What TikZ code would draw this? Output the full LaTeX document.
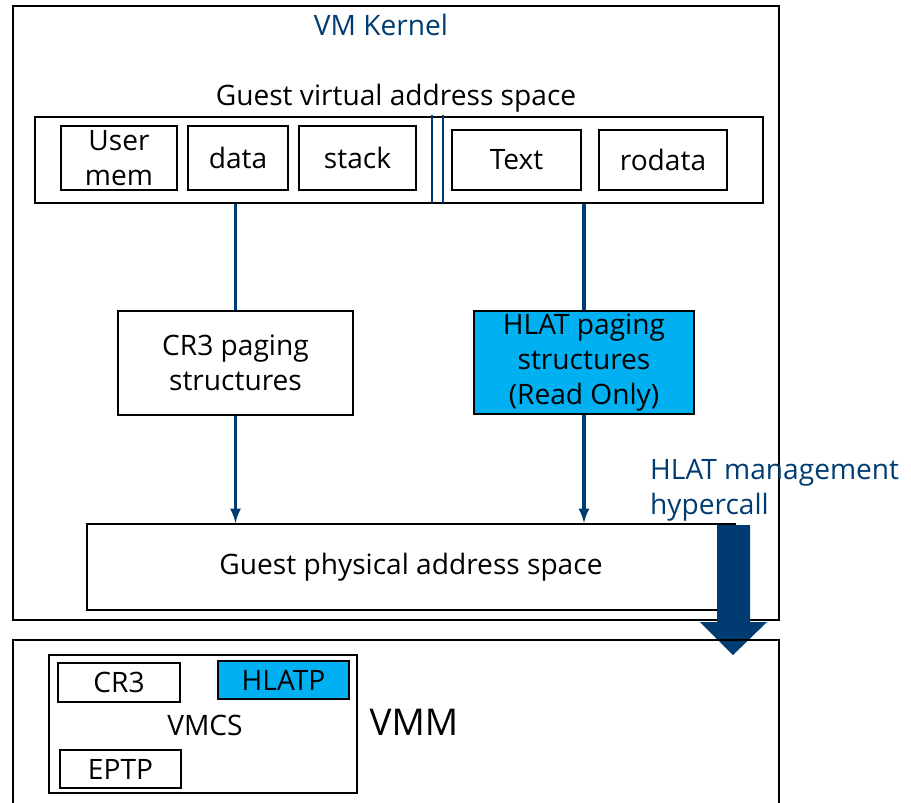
\documentclass[tikz,border=0pt]{standalone}
\usepackage{fontspec}
\setmainfont{Open Sans}
\usetikzlibrary{positioning,arrows}
\definecolor{kblue}{RGB}{0,60,113}
\definecolor{hcyan}{RGB}{0,176,240}
\tikzstyle{box}=[draw, line width=1.2pt, inner sep=0pt, align=center]
\tikzstyle{flow}=[-, kblue, line width=1.8pt]
\tikzstyle{lbl}=[font=\fontsize{16}{19.8}\selectfont]

\begin{document}
\begin{tikzpicture}[x=0.02cm, y=-0.02cm, lbl]
            \useasboundingbox (0,0) rectangle (911,802);
            \clip (0,0) rectangle (911,802);

            \node[box, minimum width=15.32cm, minimum height=12.28cm] (vmk) at (396,313) {};
            \node[kblue] (vmkt) at (381,25) {VM Kernel};

            \node[box, minimum width=14.56cm, minimum height=1.72cm] (gva) at (399,160) {};
            \node (gvat) at (396,98) {Guest virtual address space};
            \node[box, minimum width=2.32cm, minimum height=1.28cm] (user) at (119,158) {User\\mem};
            \node[box, minimum width=2.0cm, minimum height=1.28cm] (data) at (238,158) {data};
            \node[box, minimum width=2.34cm, minimum height=1.28cm] (stack) at (357.5,158) {stack};
            \node[box, minimum width=2.58cm, minimum height=1.2cm] (text) at (516.5,160) {Text};
            \node[box, minimum width=2.56cm, minimum height=1.2cm] (rodata) at (663,160) {rodata};
            \draw[kblue, line width=1pt] (432,115) -- (432,203);
            \draw[kblue, line width=1pt] (443,115) -- (443,203);

            \node[box, minimum width=4.7cm, minimum height=2.08cm] (cr3p) at (235.5,363) {CR3 paging\\structures};
            \node[box, fill=hcyan, minimum width=4.4cm, minimum height=2.06cm] (hlat) at (584,362.5) {HLAT paging\\structures\\(Read Only)};
            \node[box, minimum width=12.96cm, minimum height=1.72cm] (gpa) at (411,567) {Guest physical address space};

            \draw[flow] (cr3p.north |- gva.south) -- (cr3p.north);
            \draw[flow] (hlat.north |- gva.south) -- (hlat.north);
            \draw[flow, -latex] (cr3p.south) -- (cr3p.south |- gpa.north);
            \draw[flow, -latex] (hlat.south) -- (hlat.south |- gpa.north);

            \node[kblue, anchor=north west, align=left] (hcall) at (644,453) {HLAT management\\hypercall};
            \coordinate (dn) at (733,525);
            \fill[kblue] (dn) ++(-16,0) -- ++(33,0) -- ++(0,97) -- ++(17,0) -- (733,655) -- (700,622) -- (717,622) -- cycle;

            \node[box, minimum width=15.32cm, minimum height=3.8cm] (vmm) at (396,735) {};
            \node[font=\fontsize{21}{25}\selectfont] (vmmt) at (414,722) {VMM};
            \node[box, minimum width=6.16cm, minimum height=2.76cm] (vmcs) at (203,724) {};
            \node (vmcst) at (205,725) {VMCS};
            \node[box, minimum width=2.44cm, minimum height=0.78cm] (cr3) at (119,682.5) {CR3};
            \node[box, fill=hcyan, minimum width=2.62cm, minimum height=0.76cm] (hlatr) at (283.5,680) {HLATP};
            \node[box, minimum width=2.42cm, minimum height=0.76cm] (eptp) at (120.5,769) {EPTP};
        \end{tikzpicture}
\end{document}
